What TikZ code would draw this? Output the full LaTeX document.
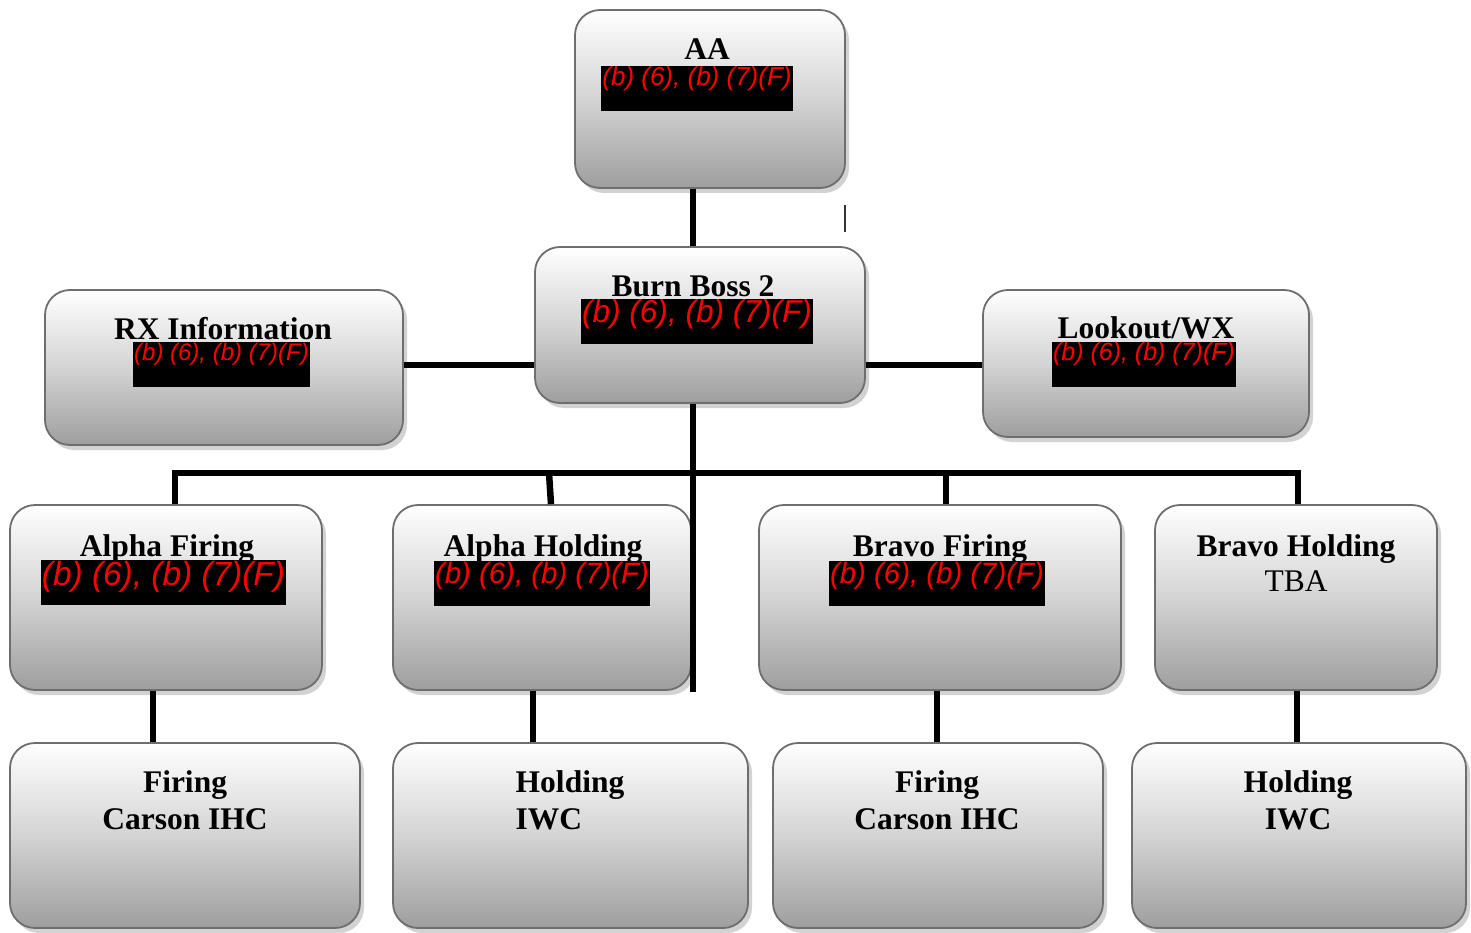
\documentclass[tikz,border=0pt]{standalone}
\usepackage{fontspec}
\setmainfont{Liberation Serif}
\setsansfont{Liberation Sans}
\usetikzlibrary{positioning, shadows, calc}

\begin{document}
\begin{tikzpicture}[x=1pt, y=-1pt,
  unit/.style 2 args={draw=black!57, line width=1.8pt, rounded corners=25pt,
    top color=white, bottom color=black!38, middle color=black!17,
    minimum width=#1pt, minimum height=#2pt, inner sep=0pt,
    drop shadow={shadow xshift=4pt, shadow yshift=-5pt, fill=black!22, opacity=0.8}},
  title/.style={anchor=base, inner sep=0pt, font=\bfseries\fontsize{31.5}{37}\selectfont},
  lines/.style={anchor=north, inner sep=0pt, align=center, font=\bfseries\fontsize{31.5}{37}\selectfont},
  redact/.style={fill=black, text=red, anchor=north, inner xsep=1pt, inner ysep=0pt,
    font=\sffamily\itshape\fontsize{#1}{#1}\selectfont,
    text height=0.75*#1, text depth=45-0.75*#1},
  link/.style={line width=6.5pt, line join=miter}]
  \useasboundingbox (0,0) rectangle (1471,933);

  \node[unit={270}{178}] (AA) at (710,99) {};
  \node[unit={330}{156}] (Boss) at (700,325) {};
  \node[unit={358}{155}] (RX) at (224,367.5) {};
  \node[unit={326}{147}] (Look) at (1146,363.5) {};
  \node[unit={312}{185}] (AFire) at (166,597.5) {};
  \node[unit={298}{185}] (AHold) at (542,597.5) {};
  \node[unit={362}{185}] (BFire) at (940,597.5) {};
  \node[unit={282}{185}] (BHold) at (1296,597.5) {};
  \node[unit={350}{185}] (CarsonA) at (185,835.5) {};
  \node[unit={355}{185}] (IWCA) at (570.5,835.5) {};
  \node[unit={330}{185}] (CarsonB) at (938,835.5) {};
  \node[unit={334}{185}] (IWCB) at (1299,835.5) {};

  \coordinate (spine) at (693,0);
  \coordinate (mid) at (0,365);
  \coordinate (spineEnd) at (693,692);
  \coordinate (busL) at (175,473);
  \coordinate (busR) at (1298,473);
  \coordinate (tapA) at (549,473);
  \coordinate (tapB) at (946,473);
  \coordinate (tickA) at (845,205);
  \coordinate (tickB) at (845,232);

  \draw[link] (AA.south -| spine) -- (Boss.north -| spine);
  \draw[link] (RX.east |- mid) -- (Boss.west |- mid);
  \draw[link] (Boss.east |- mid) -- (Look.west |- mid);
  \draw[link] (Boss.south -| spine) -- (spineEnd);
  \draw[link] (AFire.north -| busL) -- (busL) -- (busR) -- (BHold.north -| busR);
  \draw[link] (tapA) -- ([xshift=2pt]AHold.north -| tapA);
  \draw[link] (tapB) -- (BFire.north -| tapB);
  \draw[link] ([xshift=-13pt]AFire.south) -- ([xshift=-13pt]AFire.south |- CarsonA.north);
  \draw[link] ([xshift=-9pt]AHold.south) -- ([xshift=-9pt]AHold.south |- IWCA.north);
  \draw[link] ([xshift=-3pt]BFire.south) -- ([xshift=-3pt]BFire.south |- CarsonB.north);
  \draw[link] ([xshift=1pt]BHold.south) -- ([xshift=1pt]BHold.south |- IWCB.north);
  \draw[line width=1.5pt, black!80] (tickA) -- (tickB);

  \node[title] (AAt) at (707,60) {AA};
  \node[redact=26] (AAr) at (697,66) {(b) (6), (b) (7)(F)};
  \node[title] (Bosst) at (693,296) {Burn Boss 2};
  \node[redact=31.6] (Bossr) at (697,299) {(b) (6), (b) (7)(F)};
  \node[title] (RXt) at (223,339) {RX Information};
  \node[redact=24] (RXr) at (221.5,342) {(b) (6), (b) (7)(F)};
  \node[title] (Lookt) at (1146,338) {Lookout/WX};
  \node[redact=25] (Lookr) at (1144,342) {(b) (6), (b) (7)(F)};
  \node[title] (AFiret) at (167,556) {Alpha Firing};
  \node[redact=33.4] (AFirer) at (163.5,560) {(b) (6), (b) (7)(F)};
  \node[title] (AHoldt) at (543,556) {Alpha Holding};
  \node[redact=29.4] (AHoldr) at (542,561) {(b) (6), (b) (7)(F)};
  \node[title] (BFiret) at (940,556) {Bravo Firing};
  \node[redact=29.4] (BFirer) at (937,561) {(b) (6), (b) (7)(F)};
  \node[lines, font=\fontsize{31.5}{35}\selectfont] (BHoldt) at (1296,534) {\textbf{Bravo Holding}\\TBA};

  \node[lines] (CarsonAt) at (185,770) {Firing\\Carson IHC};
  \node[lines, align=left] (IWCAt) at (570,770) {Holding\\IWC};
  \node[lines] (CarsonBt) at (937,770) {Firing\\Carson IHC};
  \node[lines] (IWCBt) at (1298,770) {Holding\\IWC};
\end{tikzpicture}
\end{document}
